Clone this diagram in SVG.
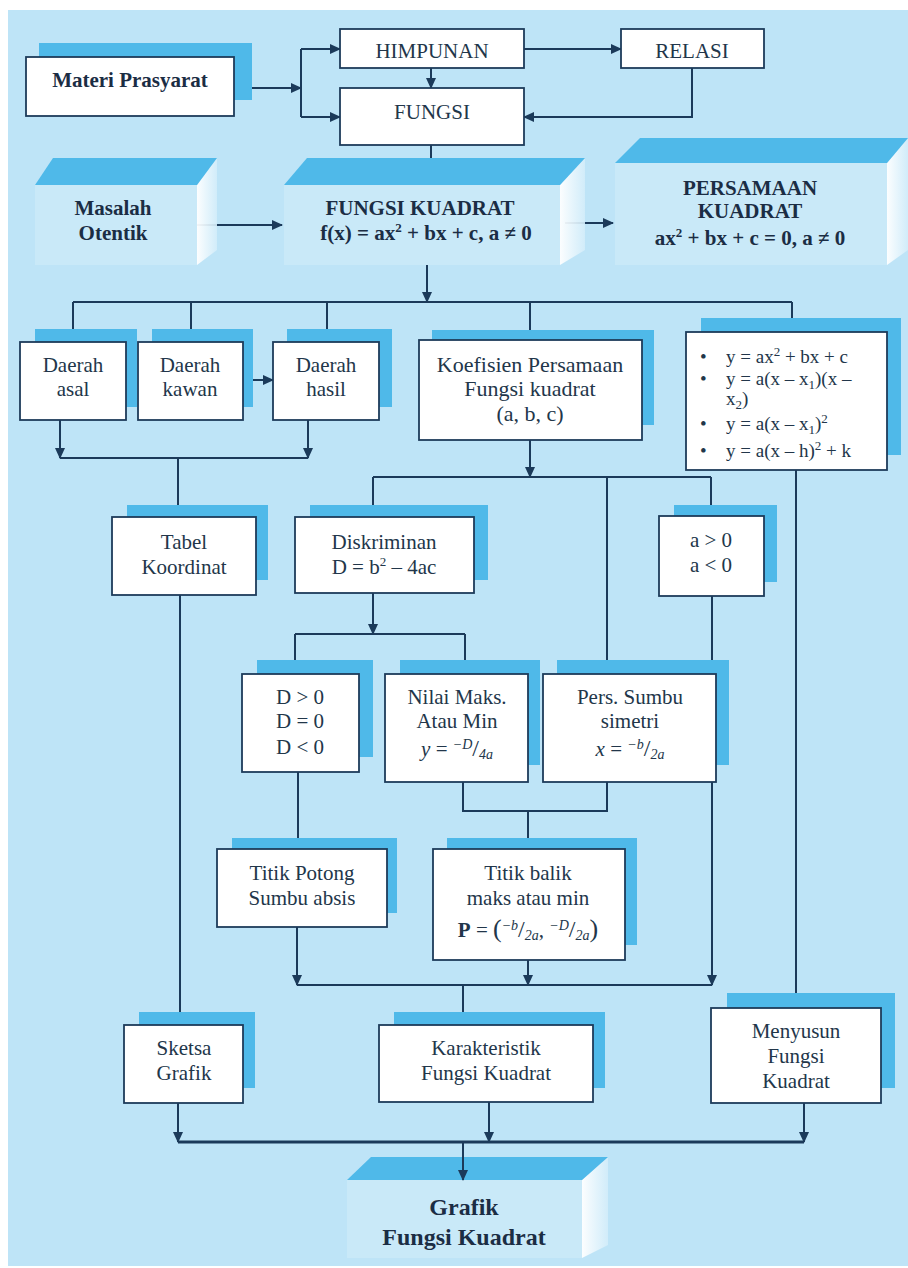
<svg xmlns="http://www.w3.org/2000/svg" width="908" height="1268" viewBox="0 0 908 1268">
<style>
.bg{fill:#bee4f7}
.box{fill:#ffffff;stroke:#1d3b5a;stroke-width:1.8}
.sh{fill:#4fb9e9}
.front{fill:#c9e9f8}
.side{fill:url(#sideg)}
.t{font-family:"Liberation Serif","Times New Roman",serif;font-size:21px;fill:#22364a;text-anchor:middle}
.b{font-weight:bold;fill:#1b2d44}
.s{font-size:19px;text-anchor:start}
.c{fill:none;stroke:#1b3a5a;stroke-width:2}
.a{marker-end:url(#ah)}
</style>
<defs>
<marker id="ah" markerWidth="11" markerHeight="10" refX="10" refY="5" orient="auto" markerUnits="userSpaceOnUse"><path d="M0,0 L11,5 L0,10 z" fill="#1b3a5a"/></marker>
<linearGradient id="sideg" x1="0" y1="0" x2="1" y2="0"><stop offset="0" stop-color="#ffffff" stop-opacity="0.95"/><stop offset="1" stop-color="#d3edfa" stop-opacity="0.9"/></linearGradient>
</defs>
<rect class="bg" x="8" y="10" width="900" height="1256"/>

<g id="connectors">
<path class="c a" d="M234,88 H301"/>
<path class="c" d="M301,49 V117"/>
<path class="c a" d="M301,49 H340"/>
<path class="c a" d="M301,117 H340"/>
<path class="c a" d="M524,49 H621"/>
<path class="c a" d="M431,68 V88"/>
<path class="c a" d="M692,68 V117 H524"/>
<path class="c a" d="M431,145 V181"/>
<path class="c a" d="M189,225 H282"/>
<path class="c a" d="M565,223 H613"/>
<path class="c a" d="M427,263 V302"/>
<path class="c" d="M73,302 H792"/>
<path class="c a" d="M73,302 V342"/>
<path class="c a" d="M191,302 V342"/>
<path class="c a" d="M327,302 V342"/>
<path class="c a" d="M530,302 V340"/>
<path class="c a" d="M792,302 V332"/>
<path class="c a" d="M243,380 H273"/>
<path class="c a" d="M60,420 V458"/>
<path class="c a" d="M308,420 V458"/>
<path class="c" d="M60,458 H308"/>
<path class="c a" d="M178,458 V517"/>
<path class="c a" d="M530,440 V477"/>
<path class="c" d="M373,477 H711"/>
<path class="c a" d="M373,477 V517"/>
<path class="c a" d="M711,477 V516"/>
<path class="c a" d="M607,477 V674"/>
<path class="c a" d="M373,593 V634"/>
<path class="c" d="M295,634 H465"/>
<path class="c a" d="M295,634 V674"/>
<path class="c a" d="M465,634 V674"/>
<path class="c a" d="M298,772 V849"/>
<path class="c" d="M463,782 V811 H607 V782"/>
<path class="c a" d="M528,811 V849"/>
<path class="c a" d="M297,927 V985"/>
<path class="c a" d="M528,960 V985"/>
<path class="c a" d="M712,596 V985"/>
<path class="c" d="M297,985 H712"/>
<path class="c a" d="M463,985 V1025"/>
<path class="c a" d="M180,595 V1025"/>
<path class="c a" d="M796,470 V1008"/>
<path class="c a" d="M178,1103 V1142"/>
<path class="c a" d="M489,1102 V1142"/>
<path class="c a" d="M804,1103 V1142"/>
<path class="c" d="M178,1142 H804" style="stroke-width:3"/>
</g>

<g id="materi">
<rect class="sh" x="39" y="43" width="213" height="57"/>
<rect class="box" x="26" y="57" width="208" height="59"/>
<text class="t b" x="130" y="87">Materi Prasyarat</text>
</g>
<g id="himpunan">
<rect class="box" x="340" y="29" width="184" height="39"/>
<text class="t" x="432" y="58">HIMPUNAN</text>
</g>
<g id="relasi">
<rect class="box" x="621" y="29" width="143" height="39"/>
<text class="t" x="692" y="58">RELASI</text>
</g>
<g id="fungsi">
<rect class="box" x="340" y="88" width="184" height="57"/>
<text class="t" x="432" y="119">FUNGSI</text>
</g>

<g id="masalah">
<rect class="front" x="35" y="185" width="162" height="80"/>
<polygon class="side" points="197,185 217,158 217,250 197,265"/>
<polygon class="sh" points="53,158 217,158 197,185 35,185"/>
<text class="t b" x="113" y="215">Masalah</text>
<text class="t b" x="113" y="240">Otentik</text>
</g>
<g id="fungsi-kuadrat">
<rect class="front" x="284" y="185" width="276" height="80"/>
<polygon class="side" points="560,185 585,158 585,250 560,265"/>
<polygon class="sh" points="307,158 585,158 560,185 284,185"/>
<text class="t b" x="420" y="215">FUNGSI KUADRAT</text>
<text class="t b" x="426" y="240">f(x) = ax<tspan font-size="13" dy="-8">2</tspan><tspan dy="8"> + bx + c, a ≠ 0</tspan></text>
</g>
<g id="persamaan">
<rect class="front" x="615" y="163" width="272" height="102"/>
<polygon class="side" points="887,163 908,138 908,250 887,265"/>
<polygon class="sh" points="640,138 908,138 887,163 615,163"/>
<text class="t b" x="750" y="195">PERSAMAAN</text>
<text class="t b" x="750" y="218">KUADRAT</text>
<text class="t b" x="750" y="245">ax<tspan font-size="13" dy="-8">2</tspan><tspan dy="8"> + bx + c = 0, a ≠ 0</tspan></text>
</g>

<g id="daerah-asal">
<rect class="sh" x="35" y="329" width="102" height="78"/>
<rect class="box" x="20" y="342" width="106" height="78"/>
<text class="t" x="73" y="372">Daerah</text>
<text class="t" x="73" y="396">asal</text>
</g>
<g id="daerah-kawan">
<rect class="sh" x="152" y="329" width="101" height="78"/>
<rect class="box" x="138" y="342" width="105" height="78"/>
<text class="t" x="190" y="372">Daerah</text>
<text class="t" x="190" y="396">kawan</text>
</g>
<g id="daerah-hasil">
<rect class="sh" x="287" y="329" width="105" height="78"/>
<rect class="box" x="273" y="342" width="106" height="78"/>
<text class="t" x="326" y="372">Daerah</text>
<text class="t" x="326" y="396">hasil</text>
</g>
<g id="koefisien">
<rect class="sh" x="432" y="330" width="222" height="95"/>
<rect class="box" x="419" y="340" width="223" height="100"/>
<text class="t" x="530" y="372" style="font-size:22px">Koefisien Persamaan</text>
<text class="t" x="530" y="396" style="font-size:22px">Fungsi kuadrat</text>
<text class="t" x="530" y="421" style="font-size:22px">(a, b, c)</text>
</g>
<g id="bentuk-fungsi">
<rect class="sh" x="701" y="318" width="200" height="137"/>
<rect class="box" x="686" y="332" width="201" height="138"/>
<text class="t s" x="700" y="363">•</text>
<text class="t s" x="700" y="385">•</text>
<text class="t s" x="700" y="430">•</text>
<text class="t s" x="700" y="457">•</text>
<text class="t s" x="726" y="363">y  = ax<tspan font-size="13" dy="-7">2</tspan><tspan dy="7"> + bx + c</tspan></text>
<text class="t s" x="726" y="385">y  = a(x – x<tspan font-size="13" dy="4">1</tspan><tspan dy="-4">)(x –</tspan></text>
<text class="t s" x="726" y="405">x<tspan font-size="13" dy="4">2</tspan><tspan dy="-4">)</tspan></text>
<text class="t s" x="726" y="430">y = a(x – x<tspan font-size="13" dy="4">1</tspan><tspan dy="-4">)</tspan><tspan font-size="13" dy="-7">2</tspan></text>
<text class="t s" x="726" y="457">y = a(x – h)<tspan font-size="13" dy="-7">2</tspan><tspan dy="7"> + k</tspan></text>
</g>

<g id="tabel">
<rect class="sh" x="127" y="505" width="141" height="75"/>
<rect class="box" x="112" y="517" width="144" height="78"/>
<text class="t" x="184" y="549">Tabel</text>
<text class="t" x="184" y="574">Koordinat</text>
</g>
<g id="diskriminan">
<rect class="sh" x="310" y="505" width="178" height="75"/>
<rect class="box" x="295" y="517" width="179" height="76"/>
<text class="t" x="384" y="549">Diskriminan</text>
<text class="t" x="384" y="574">D = b<tspan font-size="13" dy="-8">2</tspan><tspan dy="8"> – 4ac</tspan></text>
</g>
<g id="tanda-a">
<rect class="sh" x="674" y="505" width="103" height="77"/>
<rect class="box" x="659" y="516" width="105" height="80"/>
<text class="t" x="711" y="547">a &gt; 0</text>
<text class="t" x="711" y="572">a &lt; 0</text>
</g>

<g id="tanda-d">
<rect class="sh" x="257" y="660" width="116" height="97"/>
<rect class="box" x="242" y="674" width="117" height="98"/>
<text class="t" x="300" y="704">D &gt; 0</text>
<text class="t" x="300" y="728">D = 0</text>
<text class="t" x="300" y="754">D &lt; 0</text>
</g>
<g id="nilai-maks">
<rect class="sh" x="400" y="660" width="140" height="105"/>
<rect class="box" x="385" y="674" width="143" height="108"/>
<text class="t" x="457" y="704">Nilai Maks.</text>
<text class="t" x="457" y="728">Atau Min</text>
<text class="t" x="457" y="756"><tspan font-style="italic">y</tspan> = <tspan font-size="14" font-style="italic" dy="-7">−D</tspan><tspan font-size="24" dy="7">/</tspan><tspan font-size="14" font-style="italic" dy="3">4a</tspan></text>
</g>
<g id="sumbu-simetri">
<rect class="sh" x="557" y="660" width="172" height="105"/>
<rect class="box" x="543" y="674" width="173" height="108"/>
<text class="t" x="630" y="704">Pers. Sumbu</text>
<text class="t" x="630" y="728">simetri</text>
<text class="t" x="630" y="756"><tspan font-style="italic">x</tspan> = <tspan font-size="14" font-style="italic" dy="-7">−b</tspan><tspan font-size="24" dy="7">/</tspan><tspan font-size="14" font-style="italic" dy="3">2a</tspan></text>
</g>

<g id="titik-potong">
<rect class="sh" x="232" y="838" width="165" height="75"/>
<rect class="box" x="217" y="849" width="170" height="78"/>
<text class="t" x="302" y="880">Titik Potong</text>
<text class="t" x="302" y="905">Sumbu absis</text>
</g>
<g id="titik-balik">
<rect class="sh" x="447" y="838" width="190" height="107"/>
<rect class="box" x="433" y="849" width="192" height="111"/>
<text class="t" x="528" y="880">Titik balik</text>
<text class="t" x="528" y="905">maks atau min</text>
<text class="t" x="528" y="937"><tspan font-weight="bold">P</tspan> = <tspan font-size="26">(</tspan><tspan font-size="14" font-style="italic" dy="-7">−b</tspan><tspan font-size="24" dy="7">/</tspan><tspan font-size="14" font-style="italic" dy="3">2a</tspan><tspan dy="-3">, </tspan><tspan font-size="14" font-style="italic" dy="-7">−D</tspan><tspan font-size="24" dy="7">/</tspan><tspan font-size="14" font-style="italic" dy="3">2a</tspan><tspan font-size="26" dy="-3">)</tspan></text>
</g>

<g id="sketsa">
<rect class="sh" x="139" y="1012" width="116" height="76"/>
<rect class="box" x="124" y="1025" width="119" height="78"/>
<text class="t" x="184" y="1055">Sketsa</text>
<text class="t" x="184" y="1080">Grafik</text>
</g>
<g id="karakteristik">
<rect class="sh" x="394" y="1012" width="211" height="76"/>
<rect class="box" x="379" y="1025" width="214" height="77"/>
<text class="t" x="486" y="1055">Karakteristik</text>
<text class="t" x="486" y="1080">Fungsi Kuadrat</text>
</g>
<g id="menyusun">
<rect class="sh" x="727" y="993" width="168" height="95"/>
<rect class="box" x="711" y="1008" width="170" height="95"/>
<text class="t" x="796" y="1038">Menyusun</text>
<text class="t" x="796" y="1063">Fungsi</text>
<text class="t" x="796" y="1088">Kuadrat</text>
</g>

<g id="grafik">
<rect class="front" x="347" y="1180" width="235" height="78"/>
<polygon class="side" points="582,1180 608,1157 608,1245 582,1258"/>
<polygon class="sh" points="371,1157 608,1157 582,1180 347,1180"/>
<text class="t b" x="464" y="1215" style="font-size:24px">Grafik</text>
<text class="t b" x="464" y="1245" style="font-size:24px">Fungsi Kuadrat</text>
</g>
<g id="connector-final">
<path class="c a" d="M463,1142 V1180"/>
</g>
</svg>
